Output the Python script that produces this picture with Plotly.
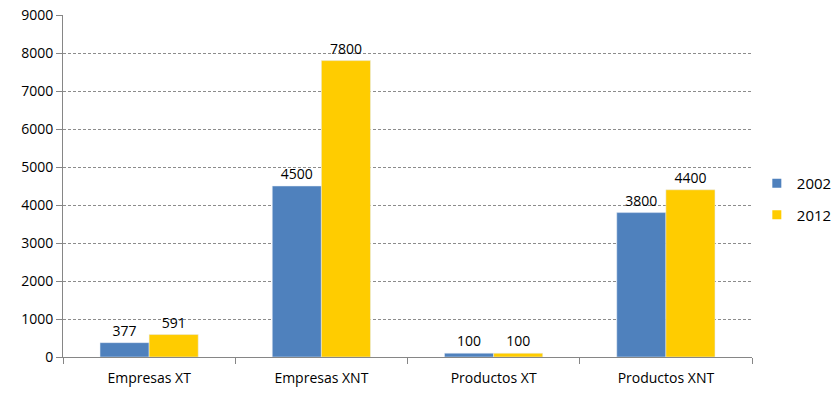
import plotly.graph_objects as go

categories = ["Empresas XT", "Empresas XNT", "Productos XT", "Productos XNT"]
series_2002 = [377, 4500, 100, 3800]
series_2012 = [591, 7800, 100, 4400]
series_names = ["2002", "2012"]
colors = ["#4F81BD", "#FFCC00"]

fig = go.Figure()
for name, vals, col in zip(series_names, [series_2002, series_2012], colors):
    fig.add_trace(go.Bar(
        x=categories, y=vals, name=name, marker_color=col,
        legendgroup=name, showlegend=False,
        text=[str(v) for v in vals], textposition="outside",
        textfont=dict(size=14, color="#000000"), cliponaxis=False,
    ))
# legend entries with small square markers
for name, col in zip(series_names, colors):
    fig.add_trace(go.Scatter(
        x=[None], y=[None], mode="markers", name=name, legendgroup=name,
        marker=dict(symbol="square", size=9, color=col),
    ))

fig.update_layout(
    width=834, height=394,
    margin=dict(l=63, r=82, t=15, b=37, autoexpand=False),
    paper_bgcolor="white", plot_bgcolor="white",
    font=dict(family="Open Sans", size=13, color="#000000"),
    barmode="group", bargap=0.43, bargroupgap=0,
    legend=dict(x=1.007, y=0.462, xanchor="left", yanchor="middle",
                font=dict(size=15), itemwidth=30, traceorder="grouped",
                tracegroupgap=9, bgcolor="rgba(0,0,0,0)"),
    showlegend=True,
)
fig.update_yaxes(range=[0, 9000], dtick=1000, showgrid=True,
                 gridcolor="#8c8c8c", griddash="3px,2px", gridwidth=1,
                 showline=True, linecolor="#868686", linewidth=1,
                 ticks="outside", ticklen=6, tickcolor="#868686",
                 tickfont=dict(size=14), zeroline=False)
fig.update_xaxes(showline=True, linecolor="#868686", linewidth=1,
                 ticks="outside", ticklen=6, tickcolor="#868686",
                 tickson="boundaries", tickfont=dict(size=14),
                 ticklabelstandoff=8)

fig.write_html("out.html")
